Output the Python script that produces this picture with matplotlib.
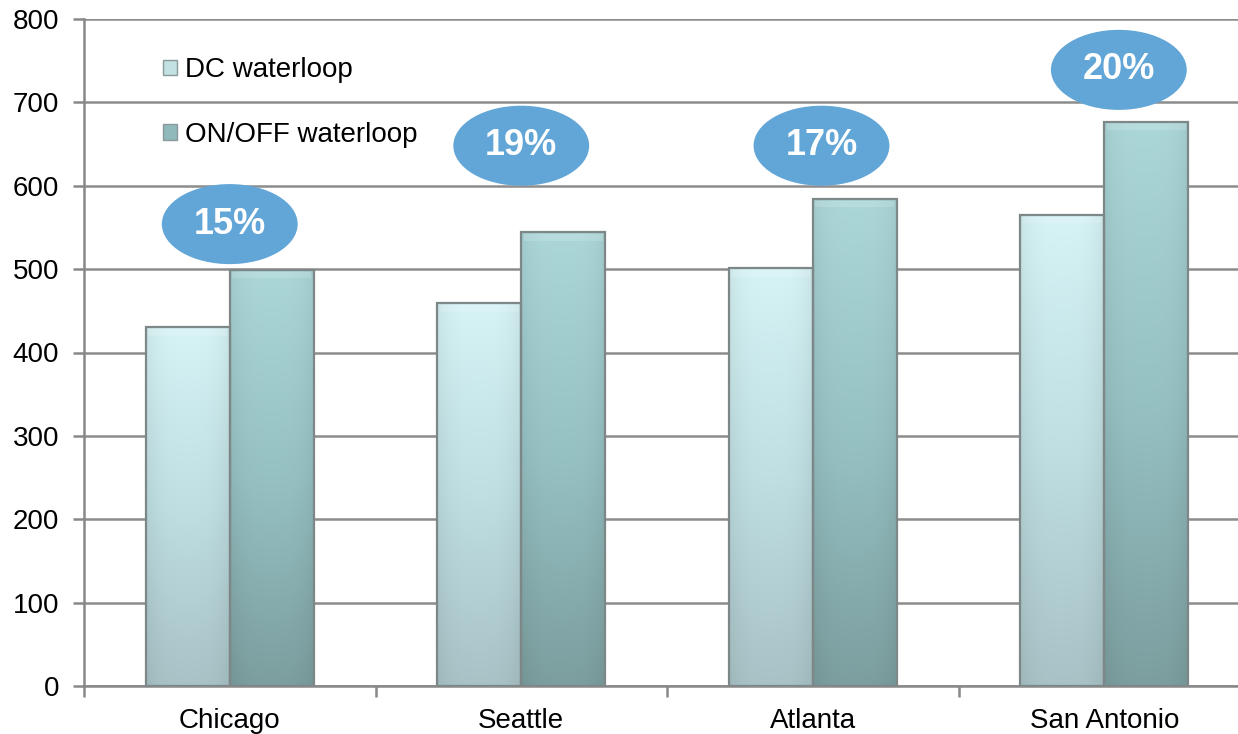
import numpy as np
import matplotlib.pyplot as plt
from matplotlib.patches import Ellipse, Rectangle
from matplotlib.colors import LinearSegmentedColormap

plt.rcParams['font.family'] = ['Liberation Sans', 'DejaVu Sans']

cities = ["Chicago", "Seattle", "Atlanta", "San Antonio"]
dc_waterloop = [430, 459, 501, 565]
onoff_waterloop = [499, 544, 584, 677]
savings_labels = ["15%", "19%", "17%", "20%"]
label_heights = [554, 648, 648, 739]
label_offsets = [0.0, 0.0, 0.03, 0.05]
series_names = ["DC waterloop", "ON/OFF waterloop"]

fig = plt.figure(figsize=(12.38, 7.34), dpi=100)
ax = fig.add_axes([84 / 1238, 48 / 734, 1166 / 1238, 667 / 734])

x = np.arange(len(cities))
bw = 0.288

cmap_dc = LinearSegmentedColormap.from_list("dc", ["#a8c2c6", "#bfdfe2", "#d6f3f5"])
cmap_on = LinearSegmentedColormap.from_list("on", ["#7c9e9f", "#96c1c3", "#acd7d9"])


def gradient_bar(xc, h, cmap):
    left = xc - bw / 2
    grad = np.linspace(0, 1, 256).reshape(-1, 1)
    horiz = 1 - 0.06 * np.abs(np.linspace(-1, 1, 64)) ** 3
    img = grad * np.ones((1, 64))
    rgba = cmap(img)
    rgba[..., :3] *= horiz[None, :, None]
    im = ax.imshow(rgba, extent=[left, left + bw, 0, h], origin="lower",
                   aspect="auto", zorder=2, interpolation="bilinear")
    rect = Rectangle((left, 0), bw, h, facecolor="none",
                     edgecolor="#7d8787", linewidth=1.6, zorder=3)
    ax.add_patch(rect)
    im.set_clip_path(rect)
    # soft bevel highlight along the top edge
    ax.add_patch(Rectangle((left + 0.008, h - 10), bw - 0.016, 8,
                           facecolor="white", alpha=0.15, linewidth=0, zorder=2.5))


for i in range(len(cities)):
    gradient_bar(x[i] - bw / 2, dc_waterloop[i], cmap_dc)
    gradient_bar(x[i] + bw / 2, onoff_waterloop[i], cmap_on)

for i, lab in enumerate(savings_labels):
    xc = x[i] + label_offsets[i]
    ax.add_patch(Ellipse((xc, label_heights[i]), 0.466, 96,
                         facecolor="#62a6d7", edgecolor="none", zorder=5, clip_on=False))
    ax.text(xc, label_heights[i], lab, ha="center", va="center", color="white",
            fontsize=26, fontweight="bold", zorder=6)

ax.set_xlim(-0.5, 3.5)
ax.set_ylim(0, 800)
ax.set_yticks(np.arange(0, 801, 100))
ax.set_xticks(x)
ax.set_xticklabels(cities)
ax.set_xticks(np.arange(-0.5, 4, 1), minor=True)
ax.tick_params(axis="x", which="major", length=0, pad=16, labelsize=20)
ax.tick_params(axis="x", which="minor", length=8, width=1.8, color="#888888", direction="out")
ax.tick_params(axis="y", length=8, width=1.8, color="#888888", labelsize=20, pad=10)
ax.yaxis.grid(True, color="#8c8c8c", linewidth=1.8, zorder=0)
ax.set_axisbelow(True)
for side in ("top", "right"):
    ax.spines[side].set_visible(False)
for side in ("left", "bottom"):
    ax.spines[side].set_color("#888888")
    ax.spines[side].set_linewidth(1.8)

handles = [Rectangle((0, 0), 1, 1, facecolor="#c3e0e3", edgecolor="#8a9999"),
           Rectangle((0, 0), 1, 1, facecolor="#8fb9bb", edgecolor="#8a9999")]
leg = ax.legend(handles, series_names, loc="upper left", bbox_to_anchor=(0.046, 0.98),
                frameon=False, fontsize=20, handlelength=0.5, handleheight=0.5,
                handletextpad=0.3, labelspacing=1.4)
leg.set_zorder(7)

fig.savefig("out.png", dpi=100)
